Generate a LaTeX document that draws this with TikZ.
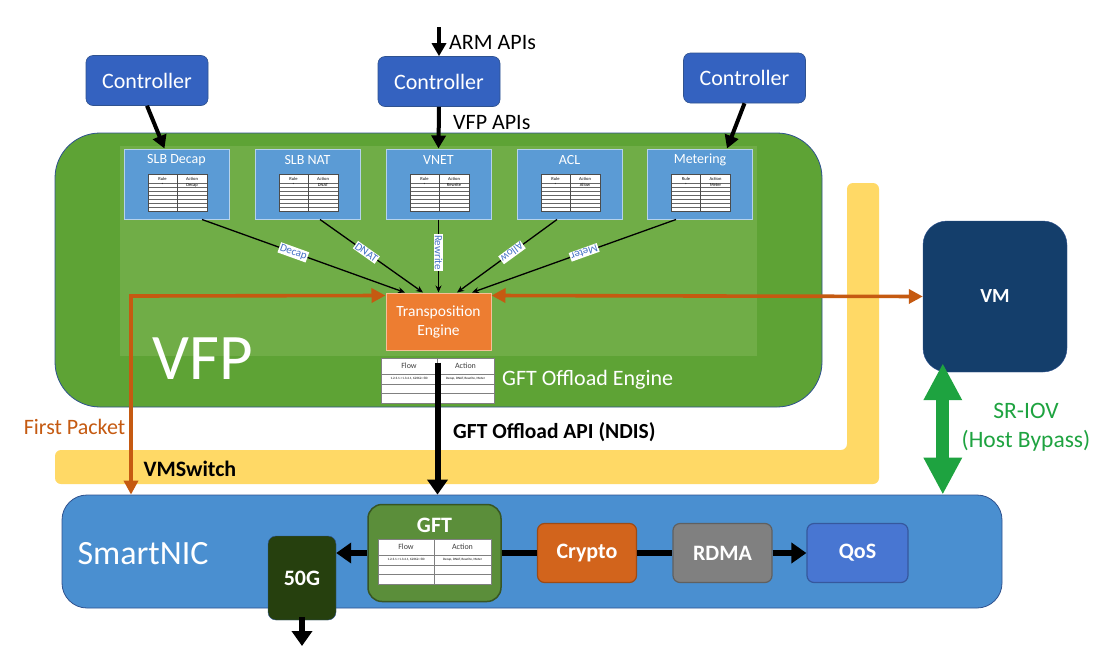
\documentclass[tikz,border=0pt]{standalone}
\usepackage{fontspec}
\setmainfont{Carlito}
\usepackage{xcolor}
\usepackage{tikz}
\usetikzlibrary{arrows.meta}
\definecolor{vfpgreen}{RGB}{94,163,53}
\definecolor{innergreen}{RGB}{112,173,71}
\definecolor{edgeblue}{RGB}{47,82,143}
\definecolor{ctrlblue}{RGB}{52,98,192}
\definecolor{layerblue}{RGB}{91,155,213}
\definecolor{labblue}{RGB}{68,114,196}
\definecolor{engorange}{RGB}{237,125,49}
\definecolor{pktorange}{RGB}{197,90,17}
\definecolor{swyellow}{RGB}{255,217,102}
\definecolor{vmnavy}{RGB}{20,62,107}
\definecolor{iovgreen}{RGB}{30,163,64}
\definecolor{nicblue}{RGB}{74,143,208}
\definecolor{gftgreen}{RGB}{91,142,58}
\definecolor{darkgreen}{RGB}{38,64,14}
\definecolor{cryptoorange}{RGB}{210,100,28}
\definecolor{rdmagray}{RGB}{128,128,128}
\definecolor{qosblue}{RGB}{72,118,210}
\tikzset{
  ctrl/.style={rectangle, rounded corners=7pt, fill=ctrlblue, draw=edgeblue, line width=0.6pt, text=white, minimum width=122pt, minimum height=50pt, font=\fontsize{22}{26}\selectfont},
  layer/.style={rectangle, fill=layerblue, draw=white!55!layerblue, line width=1pt, minimum width=105pt, minimum height=70pt},
  ltitle/.style={text=white, inner sep=0pt, font=\fontsize{14}{16}\selectfont},
  mini/.style={inner sep=0pt, font=\fontsize{4.5}{5}\selectfont},
  elab/.style={fill=white, text=labblue, inner sep=1pt, sloped, allow upside down, pos=0.45, font=\fontsize{11}{12}\selectfont},
  eng/.style={rectangle, fill=engorange, draw=white!50!engorange, line width=1pt, text=white, align=center, minimum width=105pt, minimum height=57pt, font=\fontsize{15.5}{19}\selectfont},
  tbl/.style={rectangle, fill=white, draw=gray, line width=0.8pt, minimum width=113pt, minimum height=45pt, inner sep=0pt},
  thdr/.style={inner sep=0pt, text=darkgray, font=\fontsize{8}{9}\selectfont},
  tcell/.style={inner sep=0pt, font=\fontsize{3.3}{4}\selectfont},
  note/.style={inner sep=0pt, font=\fontsize{22}{26}\selectfont},
  vm/.style={rectangle, rounded corners=24pt, fill=vmnavy, draw=edgeblue, text=white, minimum width=144pt, minimum height=151pt, font=\fontsize{20}{24}\selectfont\bfseries},
  nic/.style={rectangle, rounded corners=25pt, fill=nicblue, draw=edgeblue, line width=0.8pt, minimum width=940pt, minimum height=113pt},
  unit/.style={rectangle, rounded corners=7pt, line width=1.2pt, text=white, minimum width=99pt, minimum height=59pt, font=\fontsize{22}{26}\selectfont\bfseries},
  fat/.style={line width=4pt, -{Triangle[length=13pt,width=14pt]}},
  fatter/.style={line width=6pt, -{Triangle[length=15pt,width=20pt]}},
  wirearrow/.style={line width=1.3pt, -{Stealth[length=7pt,width=6pt]}},
  pkt/.style={pktorange, line width=3.6pt, {Triangle[length=14pt,width=14pt]}-{Triangle[length=14pt,width=14pt]}},
  iov/.style={iovgreen, line width=13pt, {Triangle[length=37pt,width=36pt]}-{Triangle[length=37pt,width=36pt]}}
}

\begin{document}
\begin{tikzpicture}[x=1pt,y=-1pt]
        \path[fill=white, use as bounding box] (0,0) rectangle (1112,654);

        \fill[swyellow, rounded corners=6pt] (55,450) -- (847,450) -- (847,183) -- (879,183) -- (879,484) -- (55,484) -- cycle;
        \node[note, font=\fontsize{22}{26}\selectfont\bfseries] (vmsw) at (190,469) {VMSwitch};

        \node[rectangle, rounded corners=45pt, fill=vfpgreen, draw=edgeblue, line width=0.8pt, minimum width=767pt, minimum height=274pt] (vfp) at (438.5,270) {};
        \node[rectangle, fill=innergreen, minimum width=637pt, minimum height=210pt] (inner) at (438.5,251) {};
        \node[text=white, inner sep=0pt, font=\fontsize{65}{70}\selectfont] (vfplbl) at (203,359) {VFP};

        \foreach \nm/\x/\ttl/\act in {slb/176.5/SLB Decap/Decap, nat/307.5/SLB NAT/DNAT, vnet/438.5/VNET/Rewrite, acl/569.5/ACL/Allow, meter/700/Metering/Meter} {
          \node[layer] (\nm) at (\x,184) {};
          \node[ltitle] (\nm-t) at (\x,160) {\ttl};
          \fill[white] (\x-28.5,174) rectangle (\x+30.5,211);
          \foreach \y in {183,187,...,207}
            \draw[gray!80!black, line width=0.5pt] (\x-28.5,\y) -- (\x+30.5,\y);
          \draw[black!70, line width=0.8pt] (\x-28.5,174) rectangle (\x+30.5,211) (\x+0.5,174) -- (\x+0.5,211);
          \node[mini] (\nm-r) at (\x-14,178.5) {Rule};
          \node[mini] (\nm-a) at (\x+15.5,178.5) {Action};
          \node[mini] (\nm-s) at (\x-14,185) {*};
          \node[mini] (\nm-v) at (\x+15.5,185) {\act};
        }

        \node[ctrl] (c1) at (147,80.5) {Controller};
        \node[ctrl] (c2) at (439,81.5) {Controller};
        \node[ctrl] (c3) at (744.5,78) {Controller};
        \coordinate (arm) at (439,27);
        \draw[fat] (arm) -- (c2.north);
        \node[note, anchor=west] (armlbl) at (449,43) {ARM APIs};
        \node[note, anchor=west] (vfpapi) at (453,123) {VFP APIs};

        \foreach \from/\to/\dx in {c1/slb/-12, c2/vnet/0, c3/meter/27}
          \draw[fat] (\from.south) -- ([xshift=\dx pt]\to.north);

        \node[eng] (eng) at (438.5,321.5) {Transposition\\Engine};

        \foreach \from/\sx/\ex/\lab in {
          slb/25.5/-33.5/Decap, nat/12.5/-15.5/DNAT, vnet/0/0/Rewrite,
          acl/-12.5/18.5/Allow, meter/-24/33.5/Meter}
          \draw[wirearrow] ([xshift=\sx pt]\from.south) -- node[elab] {\lab} ([xshift=\ex pt]eng.north);

        \node[note, text=white, anchor=west] (ofelbl) at (502,380) {GFT Offload Engine};
        \node[text=pktorange, inner sep=0pt, font=\fontsize{22}{26}\selectfont] (fplbl) at (74.5,427) {First Packet};

        \node[vm] (vm) at (995,296.5) {VM};
        \node[nic] (nic) at (532,551.5) {};
        \node[text=white, inner sep=0pt, font=\fontsize{34}{40}\selectfont] (niclbl) at (143,554) {SmartNIC};

        \node[rectangle, rounded corners=14pt, fill=gftgreen, draw=gftgreen!60!black, line width=1.5pt, minimum width=133pt, minimum height=97pt] (gft) at (434.5,553) {};
        \node[text=white, inner sep=0pt, font=\fontsize{22}{26}\selectfont\bfseries] (gftlbl) at (434.5,525) {GFT};
        \node[rectangle, rounded corners=8pt, fill=darkgreen, draw=edgeblue, text=white, minimum width=68pt, minimum height=84pt, font=\fontsize{22}{26}\selectfont\bfseries] (g50) at (302,578) {50G};
        \node[unit, fill=cryptoorange, draw=cryptoorange!75!black] (crypto) at (587,553) {Crypto};
        \node[unit, fill=rdmagray, draw=rdmagray!75!black] (rdma) at (722.5,553) {RDMA};
        \node[unit, fill=qosblue, draw=qosblue!75!black, minimum width=101pt] (qos) at (857.5,553) {QoS};

        \foreach \nm/\x/\y in {oft/381/358, gtab/378/539} {
          \node[tbl] (\nm) at (\x+56.5,\y+22.5) {};
          \draw[gray, line width=0.8pt] (\x,\y+16) -- ++(113,0) (\x,\y+26) -- ++(113,0) (\x,\y+35.5) -- ++(113,0) (\x+56,\y) -- ++(0,45);
          \node[thdr] (\nm-f) at (\x+28,\y+8) {Flow};
          \node[thdr] (\nm-a) at (\x+84.5,\y+8) {Action};
          \node[tcell] (\nm-k) at (\x+28,\y+21) {1.2.3.1->1.3.4.1, 62362->80};
          \node[tcell] (\nm-v) at (\x+84.5,\y+21) {Decap, DNAT, Rewrite, Meter};
        }

        \coordinate (fpturn) at (131,296);
        \draw[pkt] ([yshift=-3pt]eng.north west) -- (fpturn) -- (fpturn |- nic.north);
        \draw[pkt] ([yshift=-3pt]eng.north east) -- (vm.west);

        \draw[fatter] ([yshift=-5pt]oft.north) -- (oft.north |- nic.north);
        \node[note, anchor=west, font=\fontsize{21.5}{26}\selectfont\bfseries] (apilbl) at (453,432) {GFT Offload API (NDIS)};

        \draw[line width=6pt] (gft.east) -- (crypto.west) (crypto.east) -- (rdma.west);
        \draw[fatter] (rdma.east) -- (qos.west);
        \draw[fatter] (gft.west) -- (gft.west -| g50.east);
        \coordinate (uplink) at (302,646);
        \draw[fatter] ([yshift=3pt]g50.south) -- (uplink);

        \coordinate (iovtop) at ([xshift=20pt,yshift=9pt]vm.south west);
        \draw[iov] (iovtop) -- (iovtop |- nic.north);
        \node[text=iovgreen, align=center, inner sep=0pt, font=\fontsize{23.5}{29}\selectfont] (iovlbl) at (1026,427) {SR-IOV\\(Host Bypass)};
\end{tikzpicture}
\end{document}
